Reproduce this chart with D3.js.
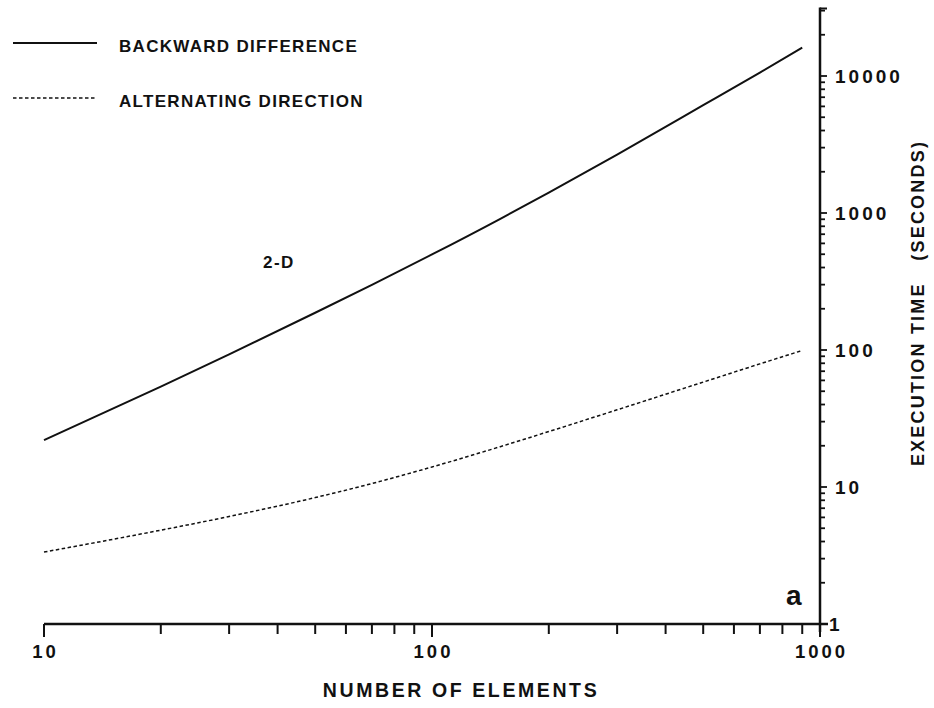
<!DOCTYPE html>
<html>
<head>
<meta charset="utf-8">
<script src="https://cdn.jsdelivr.net/npm/d3@7"></script>
<style>
  body { margin: 0; background: #fff; }
  svg { display: block; }
  text { font-family: "Liberation Sans", Arial, sans-serif; font-weight: bold; fill: #111; }
</style>
</head>
<body>
<div id="chart"></div>
<script>
// number of elements (x) and execution time in seconds (y)
const nElements = [10, 20, 30, 50, 70, 100, 150, 200, 300, 500, 700, 900];
const backwardDifference = [22, 54, 93, 187, 299, 498, 907, 1410, 2670, 6120, 10600, 16100];
const alternatingDirection = [3.35, 4.84, 6.09, 8.37, 10.6, 14.0, 19.7, 25.4, 36.6, 58.3, 79.2, 99.2];

const xTickLabels = [10, 100, 1000];
const yTickLabels = [1, 10, 100, 1000, 10000];
const seriesNames = ["BACKWARD DIFFERENCE", "ALTERNATING DIRECTION"];

const width = 934;
const height = 708;

const x = d3.scaleLog().domain([10, 1000]).range([44, 820]);
const y = d3.scaleLog().domain([1, Math.pow(10, 4.5)]).range([624, 7.5]);

const svg = d3
  .select("#chart")
  .append("svg")
  .attr("width", width)
  .attr("height", height);

// ---- x axis (ticks hang below the line)
const xMinor = [];
[10, 100].forEach((d) => {
  for (let k = 1; k <= 9; k++) xMinor.push(d * k);
});
xMinor.push(1000);

const xAxis = svg.append("g").attr("class", "x-axis");
xAxis
  .append("line")
  .attr("x1", x(10))
  .attr("x2", x(1000) + 8)
  .attr("y1", y(1))
  .attr("y2", y(1))
  .attr("stroke", "#111")
  .attr("stroke-width", 2.5);
xAxis
  .selectAll(".tick")
  .data(xMinor)
  .join("line")
  .attr("class", "tick")
  .attr("x1", (d) => x(d))
  .attr("x2", (d) => x(d))
  .attr("y1", y(1))
  .attr("y2", (d) => y(1) + (xTickLabels.includes(d) ? 13 : 10))
  .attr("stroke", "#111")
  .attr("stroke-width", 2);
xAxis
  .selectAll(".lbl")
  .data(xTickLabels)
  .join("text")
  .attr("class", "lbl")
  .attr("x", (d) => x(d) + 1.5)
  .attr("y", 658)
  .attr("text-anchor", "middle")
  .attr("font-size", 18.5)
  .attr("letter-spacing", 3)
  .text((d) => d);
xAxis
  .append("text")
  .attr("x", 461)
  .attr("y", 697)
  .attr("text-anchor", "middle")
  .attr("font-size", 19.5)
  .attr("letter-spacing", 2.6)
  .text("NUMBER OF ELEMENTS");

// ---- y axis on the right (ticks point right)
const yMinor = [];
[1, 10, 100, 1000, 10000].forEach((d) => {
  for (let k = 1; k <= 9; k++) {
    if (d * k <= 30000) yMinor.push(d * k);
  }
});

const yAxis = svg.append("g").attr("class", "y-axis");
yAxis
  .append("line")
  .attr("x1", x(1000))
  .attr("x2", x(1000))
  .attr("y1", y.range()[1])
  .attr("y2", y(1) + 8)
  .attr("stroke", "#111")
  .attr("stroke-width", 2.5);
yAxis
  .append("line")
  .attr("x1", x(1000))
  .attr("x2", x(1000) + 7)
  .attr("y1", y.range()[1] + 1)
  .attr("y2", y.range()[1] + 1)
  .attr("stroke", "#111")
  .attr("stroke-width", 2);
yAxis
  .selectAll(".tick")
  .data(yMinor.filter((d) => d > 1))
  .join("line")
  .attr("class", "tick")
  .attr("x1", x(1000))
  .attr("x2", (d) => x(1000) + (yTickLabels.includes(d) ? 7 : 5))
  .attr("y1", (d) => y(d))
  .attr("y2", (d) => y(d))
  .attr("stroke", "#111")
  .attr("stroke-width", 1.8);
yAxis
  .selectAll(".lbl")
  .data(yTickLabels)
  .join("text")
  .attr("class", "lbl")
  .attr("x", (d) => (d === 1 ? 829 : 835))
  .attr("y", (d) => y(d))
  .attr("dy", "0.36em")
  .attr("font-size", 19)
  .attr("letter-spacing", 3)
  .text((d) => d);
yAxis
  .append("text")
  .attr("transform", "translate(924,303) rotate(-90)")
  .attr("text-anchor", "middle")
  .attr("font-size", 18)
  .attr("letter-spacing", 2.2)
  .attr("xml:space", "preserve")
  .text("EXECUTION TIME   (SECONDS)");

// ---- curves
const line = d3
  .line()
  .x((d) => x(d[0]))
  .y((d) => y(d[1]))
  .curve(d3.curveMonotoneX);

svg
  .append("path")
  .datum(d3.zip(nElements, backwardDifference))
  .attr("fill", "none")
  .attr("stroke", "#111")
  .attr("stroke-width", 2)
  .attr("d", line);

svg
  .append("path")
  .datum(d3.zip(nElements, alternatingDirection))
  .attr("fill", "none")
  .attr("stroke", "#111")
  .attr("stroke-width", 1.5)
  .attr("stroke-dasharray", "3.5,2.5")
  .attr("d", line);

// ---- legend
const legend = svg.append("g").attr("class", "legend");
const legendRows = legend
  .selectAll("g")
  .data(seriesNames)
  .join("g")
  .attr("transform", (d, i) => `translate(0,${43 + i * 55})`);
legendRows
  .append("line")
  .attr("x1", 13)
  .attr("x2", 97)
  .attr("stroke", "#111")
  .attr("stroke-width", (d, i) => (i === 0 ? 2 : 1.5))
  .attr("stroke-dasharray", (d, i) => (i === 0 ? null : "3.5,2.5"));
legendRows
  .append("text")
  .attr("x", 119)
  .attr("y", 9)
  .attr("font-size", 17)
  .attr("letter-spacing", 1.3)
  .text((d) => d);

// ---- annotations
svg
  .append("text")
  .attr("x", 263)
  .attr("y", 268)
  .attr("font-size", 17)
  .attr("letter-spacing", 1.5)
  .text("2-D");

svg
  .append("text")
  .attr("x", 786)
  .attr("y", 605)
  .attr("font-size", 28)
  .text("a");
</script>
</body>
</html>
